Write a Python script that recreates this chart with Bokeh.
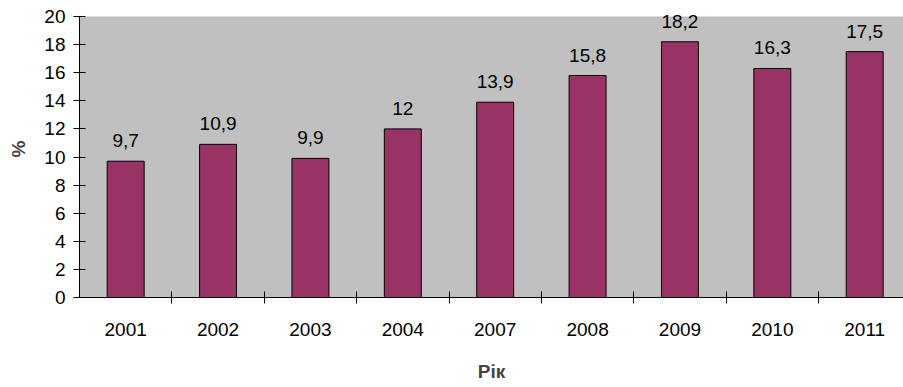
from bokeh.plotting import figure
from bokeh.models import Range1d, FixedTicker, ColumnDataSource, BoxAnnotation
from bokeh.embed import file_html
from bokeh.resources import INLINE
from bokeh.core.properties import value

years = ["2001", "2002", "2003", "2004", "2007", "2008", "2009", "2010", "2011"]
values = [9.7, 10.9, 9.9, 12, 13.9, 15.8, 18.2, 16.3, 17.5]
y_ticks = list(range(0, 21, 2))

n = len(years)
centers = [i + 0.5 for i in range(n)]
bounds = [float(i) for i in range(1, n)]
labels = [("%g" % v).replace(".", ",") for v in values]
y_max = y_ticks[-1]

src = ColumnDataSource(dict(x=centers, top=values, lab=labels))

FONT = "Liberation Sans"
FS = "19px"

# frame extends above the value axis top (20) so labels are not clipped
p = figure(width=903, height=387, output_backend="svg", toolbar_location=None,
           x_range=Range1d(0, 8.92), y_range=Range1d(0, y_max * 297 / 281),
           min_border_left=79, min_border_right=0, min_border_top=0, min_border_bottom=90)
p.background_fill_color = "white"
p.border_fill_color = "white"
p.outline_line_color = None
p.grid.visible = False

p.add_layout(BoxAnnotation(top=y_max, fill_color="#C0C0C0", fill_alpha=1.0,
                           line_color=None, level="underlay"))

p.vbar(x="x", top="top", width=0.4, bottom=0, source=src,
       fill_color="#993366", line_color="black", line_width=1)
p.text(x="x", y="top", text="lab", source=src, text_align="center",
       text_baseline="bottom", y_offset=-14,
       text_font=value(FONT), text_font_size=FS, text_color="black")

xa = p.xaxis[0]
xa.ticker = FixedTicker(ticks=centers, minor_ticks=bounds)
xa.major_label_overrides = {c: y for c, y in zip(centers, years)}
xa.major_tick_in = 0
xa.major_tick_out = 0
xa.minor_tick_in = 6
xa.minor_tick_out = 6
xa.minor_tick_line_color = "black"
xa.axis_line_color = "black"
xa.major_label_standoff = 19
xa.major_label_text_font = FONT
xa.major_label_text_font_size = FS
xa.major_label_text_color = "black"
xa.axis_label = "Рік"
xa.axis_label_text_font = FONT
xa.axis_label_text_font_size = FS
xa.axis_label_text_font_style = "bold"
xa.axis_label_standoff = 22

ya = p.yaxis[0]
ya.ticker = FixedTicker(ticks=y_ticks, minor_ticks=[])
ya.bounds = (0, y_max)
ya.major_tick_in = 6
ya.major_tick_out = 6
ya.major_tick_line_color = "black"
ya.minor_tick_line_color = None
ya.axis_line_color = "black"
ya.major_label_standoff = 8
ya.major_label_text_font = FONT
ya.major_label_text_font_size = FS
ya.major_label_text_color = "black"
ya.axis_label = "%"
ya.axis_label_text_font = FONT
ya.axis_label_text_font_size = FS
ya.axis_label_text_font_style = "bold"
ya.axis_label_standoff = 12

open("out.html", "w").write(file_html(p, INLINE))
